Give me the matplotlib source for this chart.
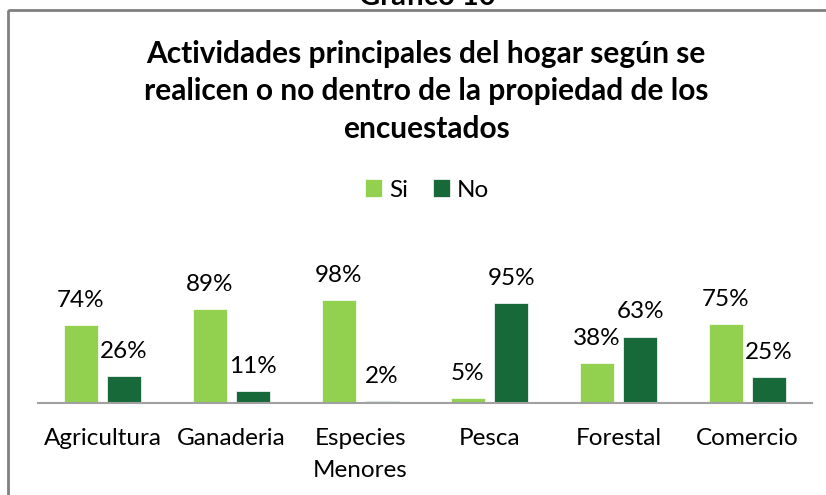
import matplotlib
matplotlib.use("Agg")
import matplotlib.pyplot as plt
import numpy as np
from matplotlib.patches import Rectangle

categories = ["Agricultura", "Ganaderia", "Especies\nMenores", "Pesca", "Forestal", "Comercio"]
si_values = [74, 89, 98, 5, 38, 75]
no_values = [26, 11, 2, 95, 63, 25]
series_names = ["Si", "No"]

title = "Actividades principales del hogar según se\nrealicen o no dentro de la propiedad de los\nencuestados"
header = "Gráfico 10"

SI_COLOR = "#92D050"
NO_COLOR = "#17693A"
FONT = "Lato"

W, H = 826, 495
plt.rcParams["font.family"] = [FONT, "DejaVu Sans"]

fig = plt.figure(figsize=(W / 100, H / 100), dpi=100)


def px(x, y):
    # pixel coords (from top-left) to figure fraction
    return x / W, 1 - y / H


# frame around the chart (right/bottom edges fall outside the picture)
frame = Rectangle(px(8, 10), (W + 20) / W, -(H + 20) / H, transform=fig.transFigure,
                  fill=False, edgecolor="#808080", linewidth=2)
fig.add_artist(frame)

fig.text(*px(427, 5), header, ha="center", va="baseline", fontsize=21, fontweight="bold")
fig.text(*px(426, 138), title, ha="center", va="baseline", fontsize=21.5, fontweight="bold",
         linespacing=1.42)

left, right, bottom, top = 38, 812, 403, 230
ax = fig.add_axes([left / W, 1 - bottom / H, (right - left) / W, (bottom - top) / H])

x = np.arange(len(categories))
width = 0.26
offset = 0.168
bars_si = ax.bar(x - offset, si_values, width, color=SI_COLOR, label=series_names[0],
                 edgecolor="white", linewidth=0.5)
bars_no = ax.bar(x + offset, no_values, width, color=NO_COLOR, label=series_names[1],
                 edgecolor="white", linewidth=0.5)

for bars, values in ((bars_si, si_values), (bars_no, no_values)):
    for bar, val in zip(bars, values):
        ax.annotate(f"{val}%", (bar.get_x() + bar.get_width() / 2, bar.get_height()),
                    xytext=(0, 13), textcoords="offset points", ha="center", va="baseline",
                    fontsize=17.5)

ax.set_xlim(-0.5, len(categories) - 0.5)
ax.set_ylim(0, 164)
ax.set_xticks(x)
ax.set_xticklabels(categories, fontsize=17.5, linespacing=1.65)
ax.tick_params(axis="x", length=0, pad=18)
ax.set_yticks([])
for side in ("top", "right", "left"):
    ax.spines[side].set_visible(False)
ax.spines["bottom"].set_color("#A0A0A0")
ax.spines["bottom"].set_linewidth(1.5)

fig.legend(handles=[bars_si, bars_no], labels=series_names, loc="center",
           bbox_to_anchor=px(427, 190), ncol=2, frameon=False, fontsize=17.5,
           handlelength=0.7, handleheight=0.7, handletextpad=0.3, columnspacing=1.0)

fig.savefig("out.png", dpi=100)
